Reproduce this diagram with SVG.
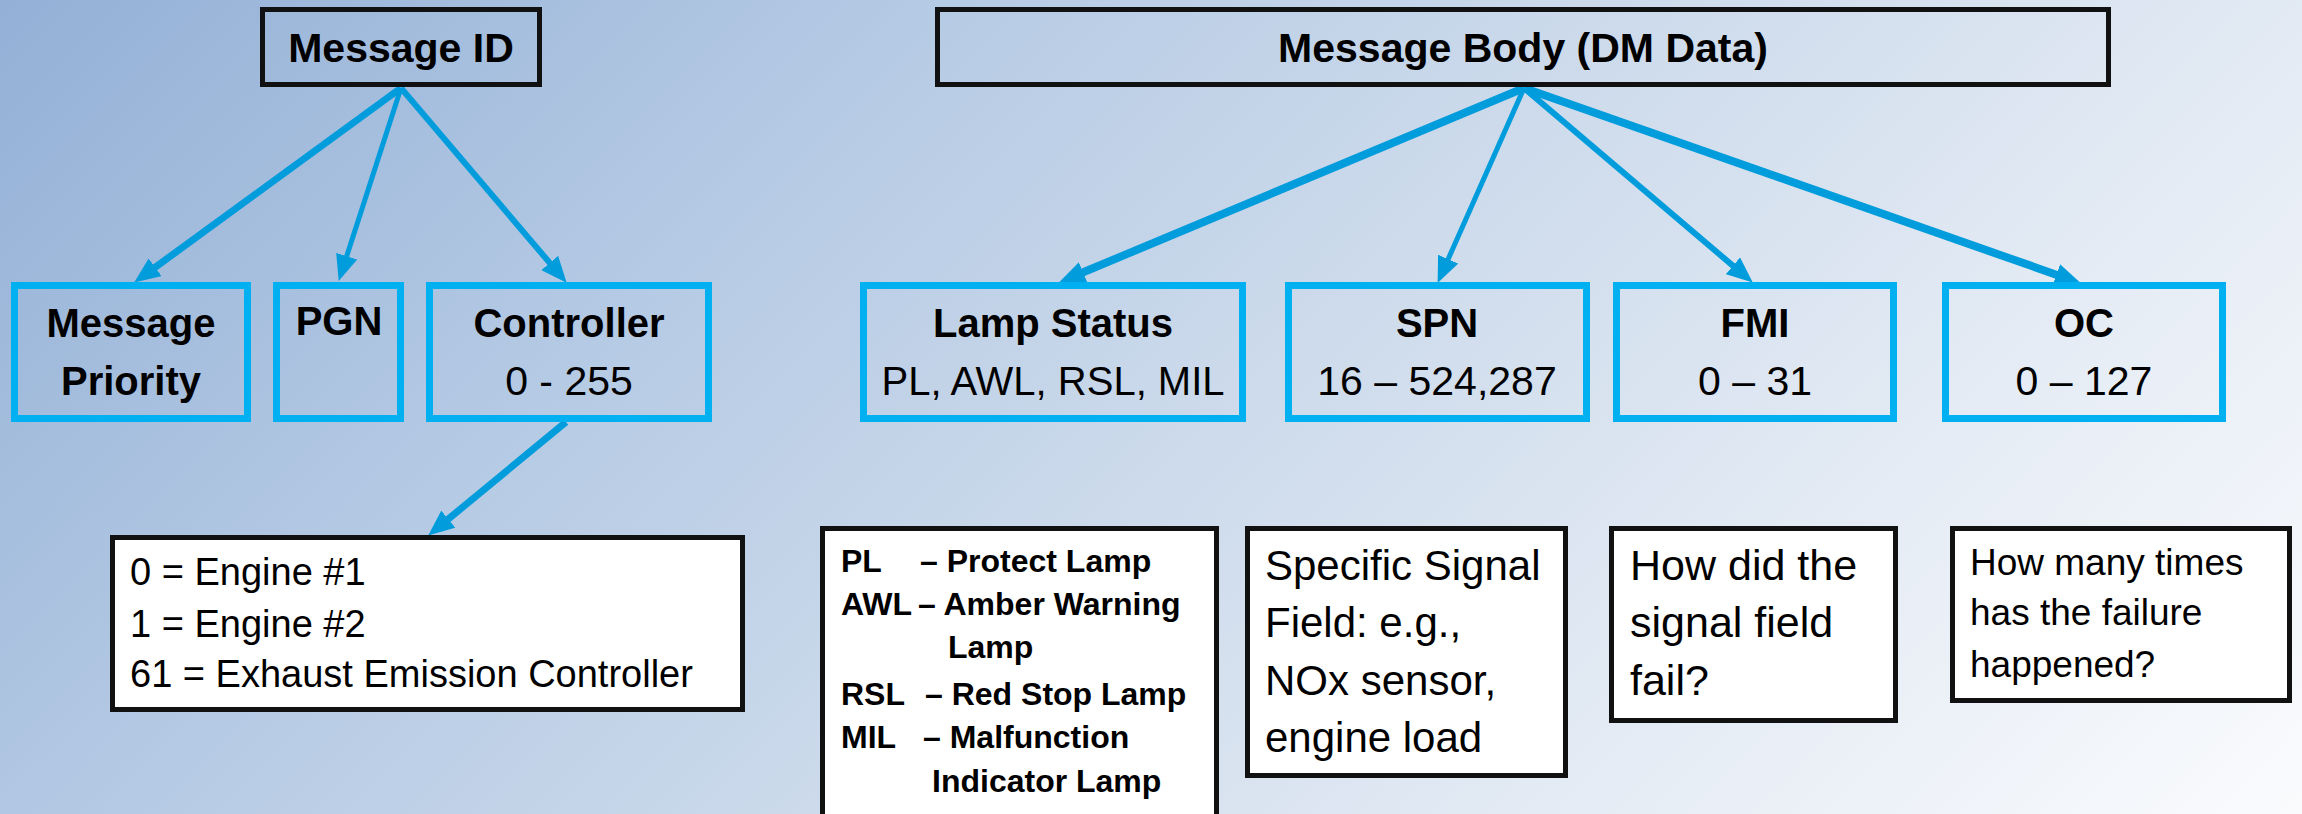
<svg xmlns="http://www.w3.org/2000/svg" width="2302" height="814" viewBox="0 0 2302 814">
<defs>
<linearGradient id="bg" gradientUnits="userSpaceOnUse" x1="0" y1="0" x2="1558" y2="1558">
<stop offset="0" stop-color="#93B0D6"/>
<stop offset="0.3" stop-color="#B5CAE4"/>
<stop offset="0.55" stop-color="#CFDCEC"/>
<stop offset="0.8" stop-color="#E8EEF6"/>
<stop offset="1" stop-color="#FAFBFD"/>
</linearGradient>
<marker id="ah" markerUnits="userSpaceOnUse" viewBox="0 0 26 22" markerWidth="26" markerHeight="22" refX="9" refY="11" orient="auto">
<path d="M0,0 L26,11 L0,22 Z" fill="#019CDC"/>
</marker>
<style>
.t{font-family:"Liberation Sans",Arial,sans-serif;fill:#000}
.b{font-weight:bold}
.c{text-anchor:middle}
.hdr{fill:none;stroke:#111;stroke-width:5}
.blue{fill:none;stroke:#00B0F0;stroke-width:7}
.desc{fill:#fff;stroke:#111;stroke-width:5}
.arr{stroke:#019CDC;fill:none;marker-end:url(#ah)}
</style>
</defs>
<rect width="2302" height="814" fill="url(#bg)"/>

<g id="connectors">
<line class="arr" stroke-width="7" x1="401" y1="88" x2="147.9" y2="272.6"/>
<line class="arr" stroke-width="5" x1="401" y1="88" x2="343.9" y2="264.8"/>
<line class="arr" stroke-width="6" x1="401" y1="88" x2="555.6" y2="269.8"/>
<line class="arr" stroke-width="8" x1="1524" y1="88" x2="1074.8" y2="275.8"/>
<line class="arr" stroke-width="5" x1="1524" y1="88" x2="1444.5" y2="267.4"/>
<line class="arr" stroke-width="6" x1="1524" y1="88" x2="1739.8" y2="271.6"/>
<line class="arr" stroke-width="8" x1="1524" y1="88" x2="2064.9" y2="277.7"/>
<line class="arr" stroke-width="7" x1="566" y1="422" x2="441.3" y2="524.8"/>
</g>

<g id="message-id">
<rect class="hdr" x="262.5" y="9.5" width="277" height="75"/>
<text class="t b c" x="401" y="62" font-size="41">Message ID</text>
</g>
<g id="message-body">
<rect class="hdr" x="937.5" y="9.5" width="1171" height="75"/>
<text class="t b c" x="1523" y="62" font-size="41">Message Body (DM Data)</text>
</g>

<g id="message-priority">
<rect class="blue" x="14.5" y="285.5" width="233" height="133"/>
<text class="t b c" x="131" y="337" font-size="40">Message</text>
<text class="t b c" x="131" y="395" font-size="40">Priority</text>
</g>
<g id="pgn">
<rect class="blue" x="276.5" y="285.5" width="124" height="133"/>
<text class="t b c" x="339" y="335" font-size="40">PGN</text>
</g>
<g id="controller">
<rect class="blue" x="429.5" y="285.5" width="279" height="133"/>
<text class="t b c" x="569" y="337" font-size="40">Controller</text>
<text class="t c" x="569" y="395" font-size="41">0 - 255</text>
</g>
<g id="lamp-status">
<rect class="blue" x="863.5" y="285.5" width="379" height="133"/>
<text class="t b c" x="1053" y="337" font-size="40">Lamp Status</text>
<text class="t c" x="1053" y="395" font-size="40">PL, AWL, RSL, MIL</text>
</g>
<g id="spn">
<rect class="blue" x="1288.5" y="285.5" width="298" height="133"/>
<text class="t b c" x="1437" y="337" font-size="40">SPN</text>
<text class="t c" x="1437" y="395" font-size="41">16 – 524,287</text>
</g>
<g id="fmi">
<rect class="blue" x="1616.5" y="285.5" width="277" height="133"/>
<text class="t b c" x="1755" y="337" font-size="40">FMI</text>
<text class="t c" x="1755" y="395" font-size="41">0 – 31</text>
</g>
<g id="oc">
<rect class="blue" x="1945.5" y="285.5" width="277" height="133"/>
<text class="t b c" x="2084" y="337" font-size="40">OC</text>
<text class="t c" x="2084" y="395" font-size="41">0 – 127</text>
</g>

<g id="controller-list">
<rect class="desc" x="112.5" y="537.5" width="630" height="172"/>
<text class="t" font-size="38"><tspan x="130" y="585">0 = Engine #1</tspan><tspan x="130" y="637">1 = Engine #2</tspan><tspan x="130" y="687">61 = Exhaust Emission Controller</tspan></text>
</g>
<g id="lamp-legend">
<rect class="desc" x="822.5" y="528.5" width="394" height="300"/>
<text class="t b" font-size="32">
<tspan x="841" y="572">PL</tspan><tspan x="920" y="572">– Protect Lamp</tspan>
<tspan x="841" y="615">AWL</tspan><tspan x="918" y="615">– Amber Warning</tspan>
<tspan x="948" y="658">Lamp</tspan>
<tspan x="841" y="705">RSL</tspan><tspan x="925" y="705">– Red Stop Lamp</tspan>
<tspan x="841" y="748">MIL</tspan><tspan x="923" y="748">– Malfunction</tspan>
<tspan x="932" y="792">Indicator Lamp</tspan>
</text>
</g>
<g id="spn-desc">
<rect class="desc" x="1247.5" y="528.5" width="318" height="247"/>
<text class="t" font-size="42"><tspan x="1265" y="580">Specific Signal</tspan><tspan x="1265" y="637">Field: e.g.,</tspan><tspan x="1265" y="695">NOx sensor,</tspan><tspan x="1265" y="752">engine load</tspan></text>
</g>
<g id="fmi-desc">
<rect class="desc" x="1611.5" y="528.5" width="284" height="192"/>
<text class="t" font-size="43"><tspan x="1630" y="580">How did the</tspan><tspan x="1630" y="637">signal field</tspan><tspan x="1630" y="695">fail?</tspan></text>
</g>
<g id="oc-desc">
<rect class="desc" x="1952.5" y="528.5" width="337" height="172"/>
<text class="t" font-size="37"><tspan x="1970" y="575">How many times</tspan><tspan x="1970" y="625">has the failure</tspan><tspan x="1970" y="677">happened?</tspan></text>
</g>
</svg>
